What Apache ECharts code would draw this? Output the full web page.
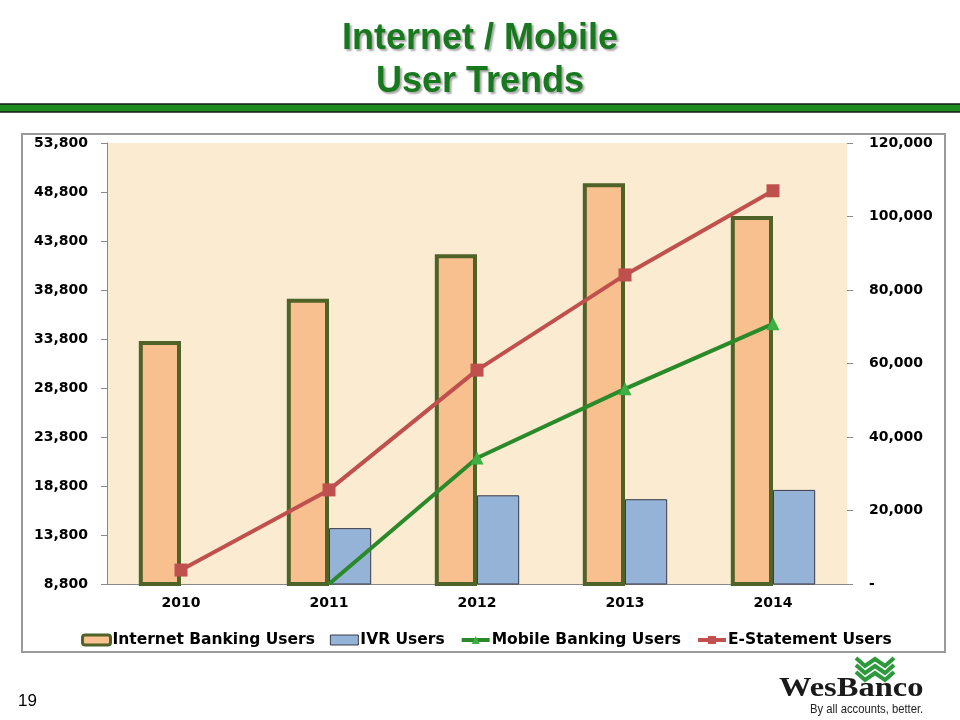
<!DOCTYPE html>
<html>
<head>
<meta charset="utf-8">
<script src="https://cdn.jsdelivr.net/npm/echarts@6/dist/echarts.min.js"></script>
<style>html,body{margin:0;padding:0;background:#fff;}#c{width:960px;height:720px;}</style>
</head>
<body>
<div id="c"></div>
<script>
const years = ['2010', '2011', '2012', '2013', '2014'];
const internetBanking = [33600, 37900, 42450, 49700, 46350];
const ivrUsers = [null, 14500, 17850, 17450, 18400];
const mobileBanking = [null, 0, 34300, 53100, 70800];
const eStatement = [3800, 25600, 58200, 84100, 107000];
const leftTicks = { min: 8800, max: 53800, step: 5000 };
const rightTicks = { min: 0, max: 120000, step: 20000 };

const chart = echarts.init(document.getElementById('c'), null, { renderer: 'canvas' });
const fmt = v => v.toLocaleString('en-US');
const labelFont = { fontFamily: 'DejaVu Sans, Verdana, sans-serif', fontWeight: 'bold', fontSize: 14, color: '#000' };

chart.setOption({
  animation: false,
  backgroundColor: '#fff',
  title: {
    text: 'Internet / Mobile\nUser Trends',
    left: 'center', top: 13,
    textStyle: {
      fontFamily: 'Liberation Sans, Arial, sans-serif', fontWeight: 'bold', fontSize: 36,
      lineHeight: 43, color: '#17781d',
      textShadowColor: 'rgba(0,0,0,0.35)', textShadowBlur: 2, textShadowOffsetX: 2, textShadowOffsetY: 2
    }
  },
  graphic: [
    { type: 'rect', z: -10, shape: { x: -2, y: 104, width: 964, height: 8 }, style: { fill: '#1f8c1f', stroke: '#1a1a1a', lineWidth: 1.5 } },
    { type: 'rect', z: -10, shape: { x: 22, y: 134, width: 923, height: 518 }, style: { fill: '#fff', stroke: '#9a9a9a', lineWidth: 2 } },
    { type: 'text', left: 18, top: 693, style: { text: '19', fontFamily: 'Liberation Sans, Arial, sans-serif', fontSize: 17, fill: '#000' } },
    { type: 'text', x: 779, y: 675, scaleX: 1.16, style: { text: 'WesBanco', fontFamily: 'Liberation Serif, Times New Roman, serif', fontWeight: 'bold', fontSize: 28, fill: '#1a1a1a' } },
    { type: 'text', x: 810, y: 703, scaleX: 0.9, style: { text: 'By all accounts, better.', fontFamily: 'Liberation Sans, Arial, sans-serif', fontSize: 12.5, fill: '#222' } },
    { type: 'polyline', shape: { points: [[856, 658], [865, 666], [875, 659], [885, 666], [894, 658]] }, style: { stroke: '#2c9a3c', lineWidth: 4, fill: null } },
    { type: 'polyline', shape: { points: [[856, 665], [865, 673], [875, 666], [885, 673], [894, 665]] }, style: { stroke: '#2c9a3c', lineWidth: 4, fill: null } },
    { type: 'polyline', shape: { points: [[856, 672], [865, 680], [875, 673], [885, 680], [894, 672]] }, style: { stroke: '#2c9a3c', lineWidth: 4, fill: null } }
  ],
  legend: {
    top: 627, left: 76, itemGap: 15, itemWidth: 28, itemHeight: 10,
    textStyle: { fontFamily: 'DejaVu Sans, Verdana, sans-serif', fontWeight: 'bold', fontSize: 15.5, color: '#000', padding: [0, 0, 0, -3] },
    data: [
      { name: 'Internet Banking Users', icon: 'roundRect', itemStyle: { borderWidth: 3 } },
      { name: 'IVR Users', icon: 'rect', itemStyle: { borderWidth: 1 } },
      { name: 'Mobile Banking Users', lineStyle: { width: 4 } },
      { name: 'E-Statement Users', lineStyle: { width: 4 } }
    ]
  },
  grid: { left: 107, right: 113, top: 143, bottom: 136, show: true, backgroundColor: '#fbebd0', borderWidth: 0 },
  xAxis: {
    type: 'category', data: years,
    axisLine: { lineStyle: { color: '#888', width: 1 } },
    axisTick: { show: false },
    axisLabel: Object.assign({ margin: 12 }, labelFont)
  },
  yAxis: [
    {
      type: 'value', position: 'left', min: leftTicks.min, max: leftTicks.max, interval: leftTicks.step,
      axisLine: { show: true, lineStyle: { color: '#888' } },
      axisTick: { show: true, inside: false, length: 6, lineStyle: { color: '#888' } },
      splitLine: { show: false },
      axisLabel: Object.assign({ margin: 19, formatter: v => fmt(v) }, labelFont)
    },
    {
      type: 'value', position: 'right', min: rightTicks.min, max: rightTicks.max, interval: rightTicks.step,
      axisLine: { show: false },
      axisTick: { show: true, inside: false, length: 6, lineStyle: { color: '#888' } },
      splitLine: { show: false },
      axisLabel: Object.assign({ margin: 22, formatter: v => v === 0 ? '-' : fmt(v) }, labelFont)
    }
  ],
  series: [
    {
      name: 'Internet Banking Users', type: 'bar', yAxisIndex: 0, data: internetBanking,
      barWidth: '28.5%', barGap: '0%',
      itemStyle: { color: '#f9c08f', borderColor: '#4f6228', borderWidth: 4 }
    },
    {
      name: 'IVR Users', type: 'bar', yAxisIndex: 0, data: ivrUsers,
      barWidth: '28.5%', barGap: '0%',
      itemStyle: { color: '#95b3d7', borderColor: '#3a3a4a', borderWidth: 1 }
    },
    {
      name: 'Mobile Banking Users', type: 'line', yAxisIndex: 1,
      data: mobileBanking.map(v => v === 0 ? { value: v, symbolSize: 0 } : v),
      symbol: 'triangle', symbolSize: 13,
      lineStyle: { color: '#2a8a2a', width: 4 },
      itemStyle: { color: '#3cb043' }
    },
    {
      name: 'E-Statement Users', type: 'line', yAxisIndex: 1, data: eStatement,
      symbol: 'rect', symbolSize: 13,
      lineStyle: { color: '#c0504d', width: 4 },
      itemStyle: { color: '#c0504d' }
    }
  ]
});
</script>
</body>
</html>
